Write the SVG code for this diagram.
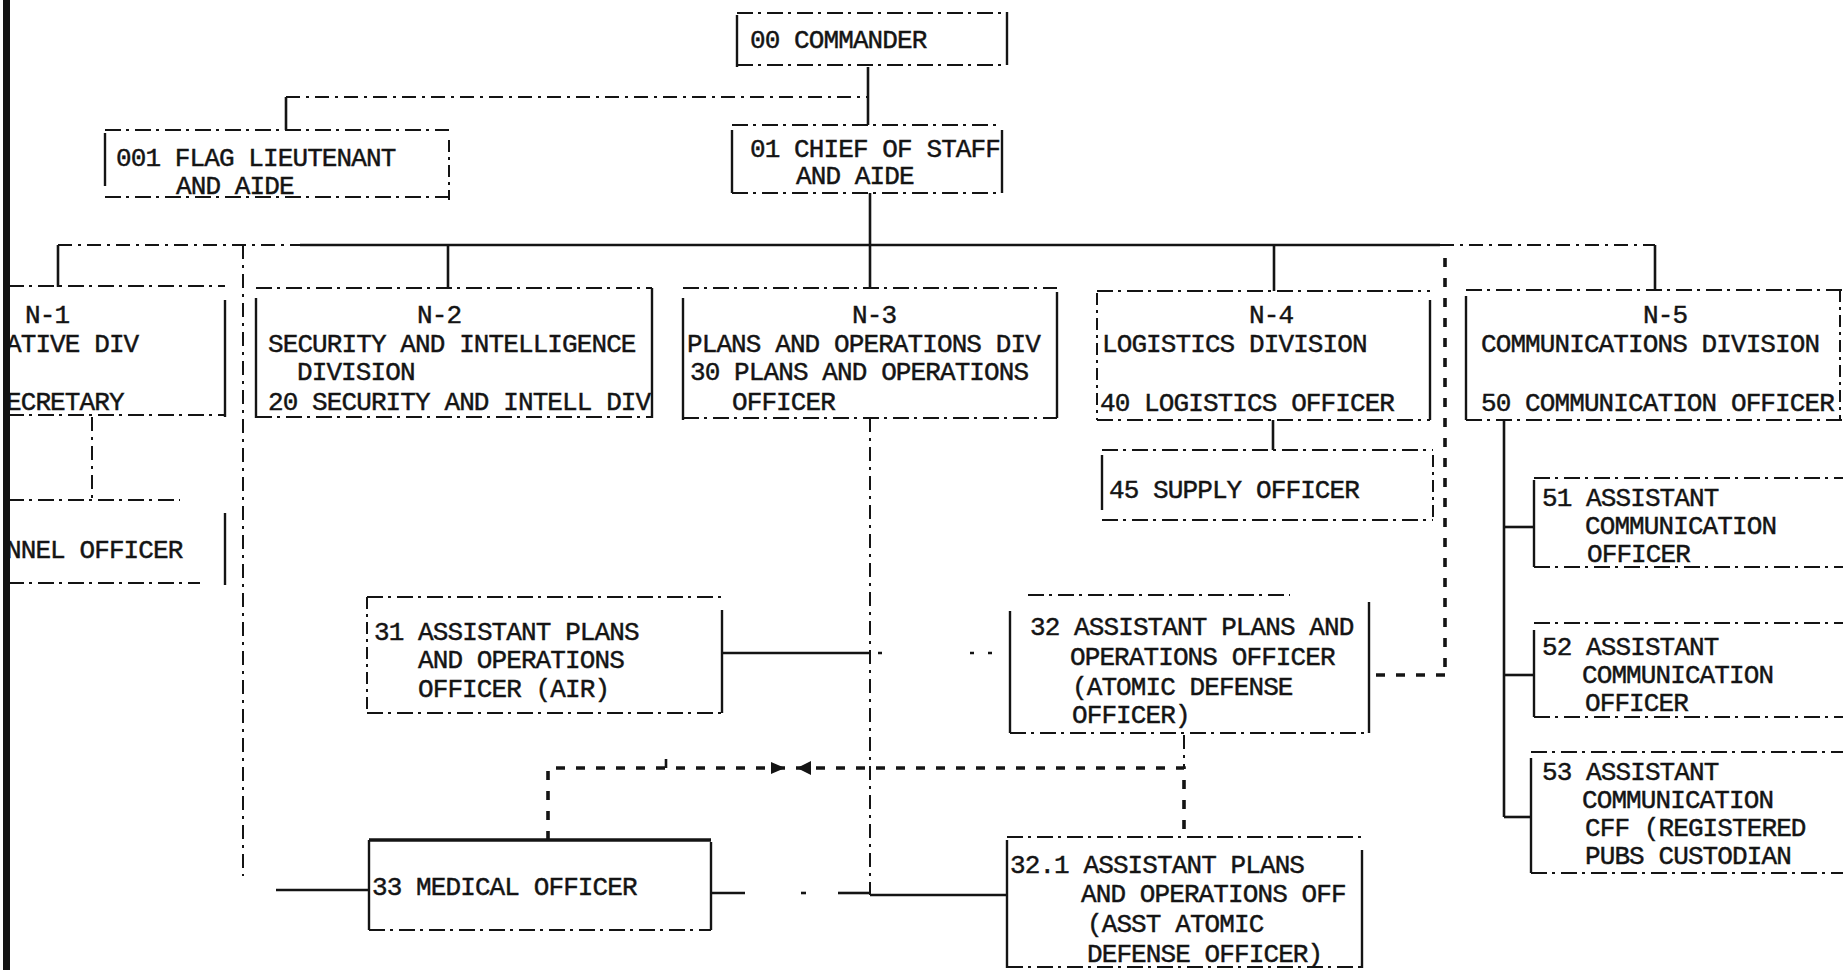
<svg xmlns="http://www.w3.org/2000/svg" width="1843" height="970" viewBox="0 0 1843 970">
<style>
.t{font-family:"Liberation Mono","Courier New",monospace;font-size:26px;letter-spacing:-0.9px;fill:#141414;stroke:#141414;stroke-width:0.45}
.bh{fill:none;stroke:#141414;stroke-width:2;stroke-dasharray:16 5 3 6}
.bv{fill:none;stroke:#141414;stroke-width:2.4}
.bvd{fill:none;stroke:#141414;stroke-width:2;stroke-dasharray:12 5 3 5}
.c{fill:none;stroke:#141414;stroke-width:2.6}
.cd{fill:none;stroke:#141414;stroke-width:2;stroke-dasharray:14 6 3 6}
.ct{fill:none;stroke:#141414;stroke-width:3.6;stroke-dasharray:9 11}
.ah{fill:#141414}
</style>
<rect x="0" y="0" width="1843" height="970" fill="#ffffff"/>

<g id="connectors">
<path class="c" d="M868,67 V125"/>
<path class="cd" d="M286,97 H868"/>
<path class="c" d="M286,97 V130"/>
<path class="c" d="M870,193 V288"/>
<path class="cd" d="M58,245 H300"/>
<path class="c" d="M300,245 H1440"/>
<path class="cd" d="M1440,245 H1655"/>
<path class="c" d="M58,245 V287"/>
<path class="c" d="M448,245 V288"/>
<path class="c" d="M1274,245 V291"/>
<path class="c" d="M1655,245 V290"/>
<path class="cd" d="M243,245 V876"/>
<path class="c" d="M276,890 H369"/>
<path class="cd" d="M92,417 V500"/>
<path class="c" d="M1273,420 V450"/>
<path class="ct" d="M1445,258 V672"/>
<path class="ct" d="M1445,675 H1372"/>
<path class="c" d="M1504,420 V817"/>
<path class="c" d="M1504,527 H1534"/>
<path class="c" d="M1504,675 H1534"/>
<path class="c" d="M1504,817 H1531"/>
<path class="cd" d="M870,418 V895"/>
<path class="c" d="M870,895 H1007"/>
<path class="c" d="M711,893 H745"/>
<path class="c" d="M801,893 H806"/>
<path class="c" d="M838,893 H870"/>
<path class="c" d="M722,653 H870"/>
<path class="c" d="M878,653 H882 M970,653 H974 M988,653 H992"/>
<path class="ct" d="M548,840 V768 H1184 V837"/>
<path class="cd" d="M1184,735 V768"/>
<path class="ah" d="M771,762 L785,768 L771,774 Z"/>
<path class="ah" d="M811,761 L797,768 L811,775 Z"/>
<path class="c" d="M666,759 V768"/>
</g>

<g id="n00">
<path class="bh" d="M737,13 H1007 M737,65 H1007"/>
<path class="bv" d="M737,15 V67 M1007,12 V65"/>
<text class="t" x="750" y="48">00 COMMANDER</text>
</g>

<g id="n001">
<path class="bh" d="M105,130 H449 M105,197 H449"/>
<path class="bv" d="M105,133 V186"/>
<path class="bvd" d="M449,140 V200"/>
<text class="t" x="116" y="166">001 FLAG LIEUTENANT</text>
<text class="t" x="176" y="194">AND AIDE</text>
</g>

<g id="n01">
<path class="bh" d="M732,125 H1002 M732,193 H1002"/>
<path class="bv" d="M732,130 V193 M1002,130 V193"/>
<text class="t" x="750" y="157">01 CHIEF OF STAFF</text>
<text class="t" x="796" y="184">AND AIDE</text>
</g>

<g id="nN1">
<path class="bh" d="M8,286 H225 M8,415 H225"/>
<path class="bv" d="M225,300 V417"/>
<text class="t" x="25" y="323">N-1</text>
<text class="t" x="6" y="352">ATIVE DIV</text>
<text class="t" x="6" y="410">ECRETARY</text>
</g>

<g id="nPersonnel">
<path class="bh" d="M8,500 H180 M8,583 H200"/>
<path class="bv" d="M225,513 V585"/>
<text class="t" x="6" y="558">NNEL OFFICER</text>
</g>

<g id="nN2">
<path class="bh" d="M256,288 H652 M256,417 H652"/>
<path class="bv" d="M256,298 V418 M652,288 V418"/>
<text class="t" x="417" y="323">N-2</text>
<text class="t" x="268" y="352">SECURITY AND INTELLIGENCE</text>
<text class="t" x="297" y="380">DIVISION</text>
<text class="t" x="268" y="410">20 SECURITY AND INTELL DIV</text>
</g>

<g id="nN3">
<path class="bh" d="M683,288 H1057 M683,418 H1057"/>
<path class="bv" d="M683,298 V420 M1057,292 V418"/>
<text class="t" x="852" y="323">N-3</text>
<text class="t" x="687" y="352">PLANS AND OPERATIONS DIV</text>
<text class="t" x="690" y="380">30 PLANS AND OPERATIONS</text>
<text class="t" x="732" y="410">OFFICER</text>
</g>

<g id="nN4">
<path class="bh" d="M1097,291 H1430 M1097,420 H1430"/>
<path class="bvd" d="M1097,293 V420"/>
<path class="bv" d="M1430,300 V420"/>
<text class="t" x="1249" y="323">N-4</text>
<text class="t" x="1102" y="352">LOGISTICS DIVISION</text>
<text class="t" x="1100" y="411">40 LOGISTICS OFFICER</text>
</g>

<g id="n45">
<path class="bh" d="M1102,450 H1433 M1102,520 H1433"/>
<path class="bv" d="M1102,455 V510"/>
<path class="bvd" d="M1433,455 V522"/>
<text class="t" x="1109" y="498">45 SUPPLY OFFICER</text>
</g>

<g id="nN5">
<path class="bh" d="M1466,290 H1843 M1466,420 H1843"/>
<path class="bv" d="M1466,296 V420"/>
<path class="bvd" d="M1840,290 V420"/>
<text class="t" x="1643" y="323">N-5</text>
<text class="t" x="1481" y="352">COMMUNICATIONS DIVISION</text>
<text class="t" x="1481" y="411">50 COMMUNICATION OFFICER</text>
</g>

<g id="n51">
<path class="bh" d="M1534,478 H1843 M1534,567 H1843"/>
<path class="bv" d="M1534,480 V567"/>
<text class="t" x="1542" y="506">51 ASSISTANT</text>
<text class="t" x="1585" y="534">COMMUNICATION</text>
<text class="t" x="1587" y="562">OFFICER</text>
</g>

<g id="n52">
<path class="bh" d="M1534,623 H1843 M1534,717 H1843"/>
<path class="bv" d="M1534,630 V717"/>
<text class="t" x="1542" y="655">52 ASSISTANT</text>
<text class="t" x="1582" y="683">COMMUNICATION</text>
<text class="t" x="1585" y="711">OFFICER</text>
</g>

<g id="n53">
<path class="bh" d="M1531,752 H1843 M1531,873 H1843"/>
<path class="bv" d="M1531,758 V873"/>
<text class="t" x="1542" y="780">53 ASSISTANT</text>
<text class="t" x="1582" y="808">COMMUNICATION</text>
<text class="t" x="1585" y="836">CFF (REGISTERED</text>
<text class="t" x="1585" y="864">PUBS CUSTODIAN</text>
</g>

<g id="n31">
<path class="bh" d="M367,597 H722 M367,713 H722"/>
<path class="bvd" d="M367,597 V713"/>
<path class="bv" d="M722,610 V713"/>
<text class="t" x="374" y="640">31 ASSISTANT PLANS</text>
<text class="t" x="418" y="668">AND OPERATIONS</text>
<text class="t" x="418" y="697">OFFICER (AIR)</text>
</g>

<g id="n32">
<path class="bh" d="M1028,595 H1290 M1010,733 H1369"/>
<path class="bv" d="M1010,611 V733 M1369,602 V733"/>
<text class="t" x="1030" y="635">32 ASSISTANT PLANS AND</text>
<text class="t" x="1070" y="665">OPERATIONS OFFICER</text>
<text class="t" x="1072" y="695">(ATOMIC DEFENSE</text>
<text class="t" x="1072" y="723">OFFICER)</text>
</g>

<g id="n33">
<path class="c" style="stroke-width:3.4" d="M369,840 H711"/>
<path class="bh" d="M369,930 H711"/>
<path class="bv" d="M369,840 V930 M711,842 V930"/>
<text class="t" x="372" y="895">33 MEDICAL OFFICER</text>
</g>

<g id="n321">
<path class="bh" d="M1007,837 H1362 M1007,967 H1362"/>
<path class="bv" d="M1007,840 V968 M1362,850 V968"/>
<text class="t" x="1010" y="873">32.1 ASSISTANT PLANS</text>
<text class="t" x="1081" y="902">AND OPERATIONS OFF</text>
<text class="t" x="1087" y="932">(ASST ATOMIC</text>
<text class="t" x="1087" y="962">DEFENSE OFFICER)</text>
</g>

<rect id="page-edge" x="3" y="0" width="7" height="970" fill="#141414"/>
</svg>
